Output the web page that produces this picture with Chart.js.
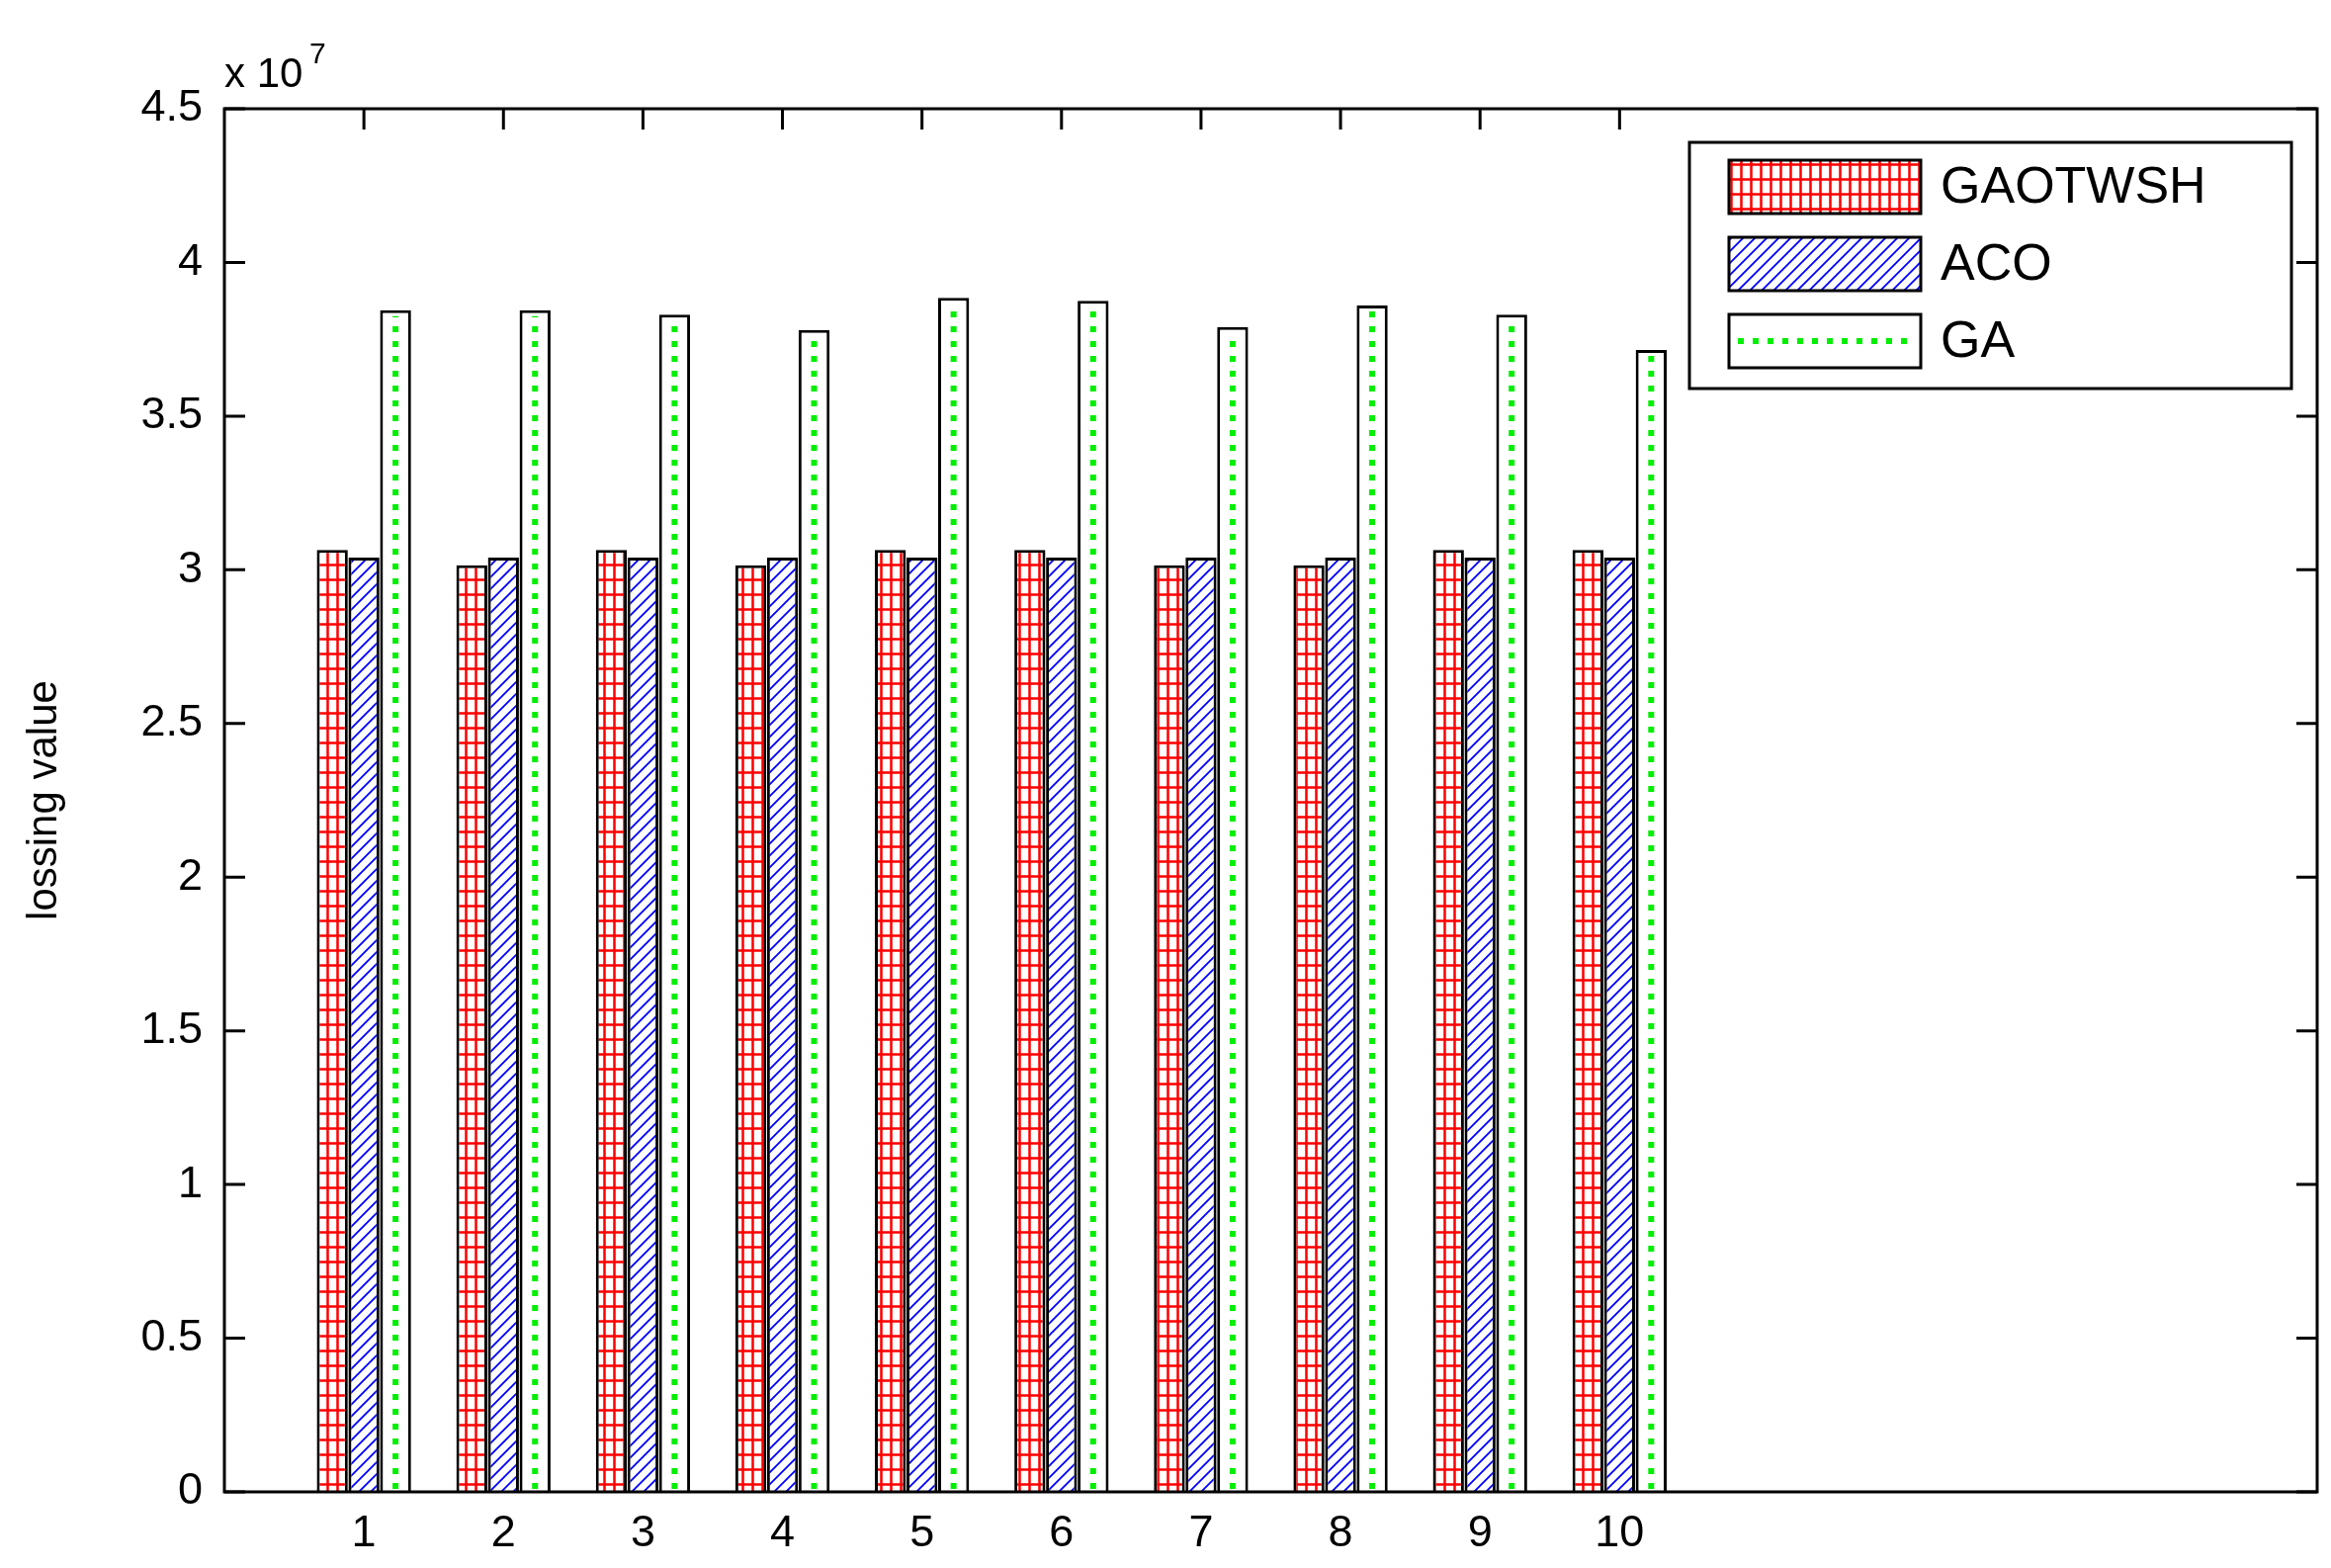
<!DOCTYPE html>
<html>
<head>
<meta charset="utf-8">
<script src="https://cdn.jsdelivr.net/npm/chart.js@4"></script>
<style>
  html, body { margin: 0; padding: 0; background: #fff; }
  #wrap { width: 2358px; height: 1586px; }
</style>
</head>
<body>
<div id="wrap"><canvas id="c"></canvas></div>
<script>
// x axis runs 0..15 like the original, only 1..10 carry data
const labels = ['0','1','2','3','4','5','6','7','8','9','10','11','12','13','14','15'];
const gaotwsh = [null, 30650000, 30150000, 30650000, 30150000, 30650000, 30650000, 30150000, 30150000, 30650000, 30650000, null, null, null, null, null];
const aco     = [null, 30400000, 30400000, 30400000, 30400000, 30400000, 30400000, 30400000, 30400000, 30400000, 30400000, null, null, null, null, null];
const ga      = [null, 38450000, 38450000, 38300000, 37800000, 38850000, 38750000, 37900000, 38600000, 38300000, 37150000, null, null, null, null, null];
const yTicks = [0, 0.5, 1, 1.5, 2, 2.5, 3, 3.5, 4, 4.5];

const dpr = window.devicePixelRatio || 1;

function gridPattern() {
  const w = Math.round(10 * dpr), h = Math.round(15 * dpr);
  const p = document.createElement('canvas');
  p.width = w; p.height = h;
  const g = p.getContext('2d');
  g.fillStyle = '#fff'; g.fillRect(0, 0, w, h);
  g.strokeStyle = '#ff0000'; g.lineWidth = 2.5 * dpr;
  g.beginPath(); g.moveTo(1.5 * dpr, 0); g.lineTo(1.5 * dpr, h); g.moveTo(0, 1.5 * dpr); g.lineTo(w, 1.5 * dpr); g.stroke();
  return g.createPattern(p, 'repeat');
}
function hatchPattern() {
  const s = Math.round(12 * dpr);
  const p = document.createElement('canvas');
  p.width = s; p.height = s;
  const g = p.getContext('2d');
  g.fillStyle = '#fff'; g.fillRect(0, 0, s, s);
  g.strokeStyle = '#0000ff'; g.lineWidth = 1.8 * dpr;
  g.beginPath();
  g.moveTo(0, s); g.lineTo(s, 0);
  g.moveTo(-s / 2, s / 2); g.lineTo(s / 2, -s / 2);
  g.moveTo(s / 2, s * 1.5); g.lineTo(s * 1.5, s / 2);
  g.stroke();
  return g.createPattern(p, 'repeat');
}

function dottedLine(ctx, x, y1, y2) {
  ctx.save();
  ctx.strokeStyle = '#00ee00'; ctx.lineWidth = 6;
  ctx.setLineDash([6, 9]);
  ctx.beginPath(); ctx.moveTo(x, y2); ctx.lineTo(x, y1); ctx.stroke();
  ctx.restore();
}

const redFill = gridPattern();
const blueFill = hatchPattern();

const framePlugin = {
  id: 'frame',
  afterDatasetsDraw(chart) {
    const ctx = chart.ctx;
    // dotted green line inside GA bars
    chart.getDatasetMeta(2).data.forEach((bar, i) => {
      if (ga[i] == null) return;
      dottedLine(ctx, bar.x, bar.y + 6, bar.base - 3);
    });
    const a = chart.chartArea, xs = chart.scales.x, ys = chart.scales.y;
    ctx.save();
    ctx.strokeStyle = '#000'; ctx.lineWidth = 3;
    ctx.strokeRect(a.left, a.top, a.right - a.left, a.bottom - a.top);
    ctx.beginPath();
    yTicks.forEach(t => {
      const y = ys.getPixelForValue(t * 1e7);
      ctx.moveTo(a.left, y); ctx.lineTo(a.left + 21, y);
      ctx.moveTo(a.right, y); ctx.lineTo(a.right - 21, y);
    });
    for (let i = 1; i <= 10; i++) {
      const x = xs.getPixelForValue(i);
      ctx.moveTo(x, a.top); ctx.lineTo(x, a.top + 21);
    }
    ctx.stroke();
    // exponent label
    ctx.fillStyle = '#000';
    ctx.font = '42px "Liberation Sans", Arial, sans-serif';
    ctx.textBaseline = 'alphabetic';
    ctx.fillText('x 10', a.left, a.top - 22);
    ctx.font = '30px "Liberation Sans", Arial, sans-serif';
    ctx.fillText('7', a.left + 86, a.top - 46);
    // legend
    const lx = 1709, ly = 144, lw = 609, lh = 249;
    ctx.fillStyle = '#fff'; ctx.fillRect(lx, ly, lw, lh);
    ctx.strokeRect(lx, ly, lw, lh);
    const names = ['GAOTWSH', 'ACO', 'GA'];
    const fills = [redFill, blueFill, '#fff'];
    ctx.font = '52px "Liberation Sans", Arial, sans-serif';
    ctx.textBaseline = 'middle';
    names.forEach((n, i) => {
      const cy = 189 + i * 78;
      ctx.fillStyle = fills[i];
      ctx.fillRect(1749, cy - 27, 194, 54);
      ctx.strokeRect(1749, cy - 27, 194, 54);
      if (i === 2) {
        ctx.save();
        ctx.strokeStyle = '#00ee00'; ctx.lineWidth = 6; ctx.setLineDash([6, 9]);
        ctx.beginPath(); ctx.moveTo(1758, cy); ctx.lineTo(1938, cy); ctx.stroke();
        ctx.restore();
      }
      ctx.fillStyle = '#000';
      ctx.fillText(n, 1963, cy + 2);
    });
    ctx.restore();
  }
};

const font = { family: '"Liberation Sans", Arial, sans-serif', size: 45 };

new Chart(document.getElementById('c'), {
  type: 'bar',
  data: {
    labels: labels,
    datasets: [
      { label: 'GAOTWSH', data: gaotwsh, backgroundColor: redFill, borderColor: '#000', borderWidth: 3 },
      { label: 'ACO', data: aco, backgroundColor: blueFill, borderColor: '#000', borderWidth: 3 },
      { label: 'GA', data: ga, backgroundColor: '#fff', borderColor: '#000', borderWidth: 3 }
    ]
  },
  options: {
    responsive: true,
    maintainAspectRatio: false,
    animation: false,
    layout: { padding: { left: 20, top: 110, right: 14, bottom: 0 } },
    plugins: { legend: { display: false }, tooltip: { enabled: false } },
    datasets: { bar: { categoryPercentage: 0.68, barPercentage: 0.98, grouped: true } },
    scales: {
      x: {
        offset: false,
        grid: { display: false },
        border: { display: false },
        ticks: {
          color: '#000', font: font, padding: 8, autoSkip: false, maxRotation: 0,
          callback: (v, i) => (i >= 1 && i <= 10 ? labels[i] : '')
        },
        afterFit: s => { s.height = 77; }
      },
      y: {
        min: 0, max: 45000000,
        grid: { display: false },
        border: { display: false },
        afterBuildTicks: s => { s.ticks = yTicks.map(t => ({ value: t * 1e7 })); },
        ticks: { color: '#000', font: font, padding: 14, callback: v => String(v / 1e7) },
        title: { display: true, text: 'lossing value', color: '#000', font: { family: font.family, size: 42 }, padding: 0 },
        afterFit: s => { s.width = 207; }
      }
    }
  },
  plugins: [framePlugin]
});
</script>
</body>
</html>
